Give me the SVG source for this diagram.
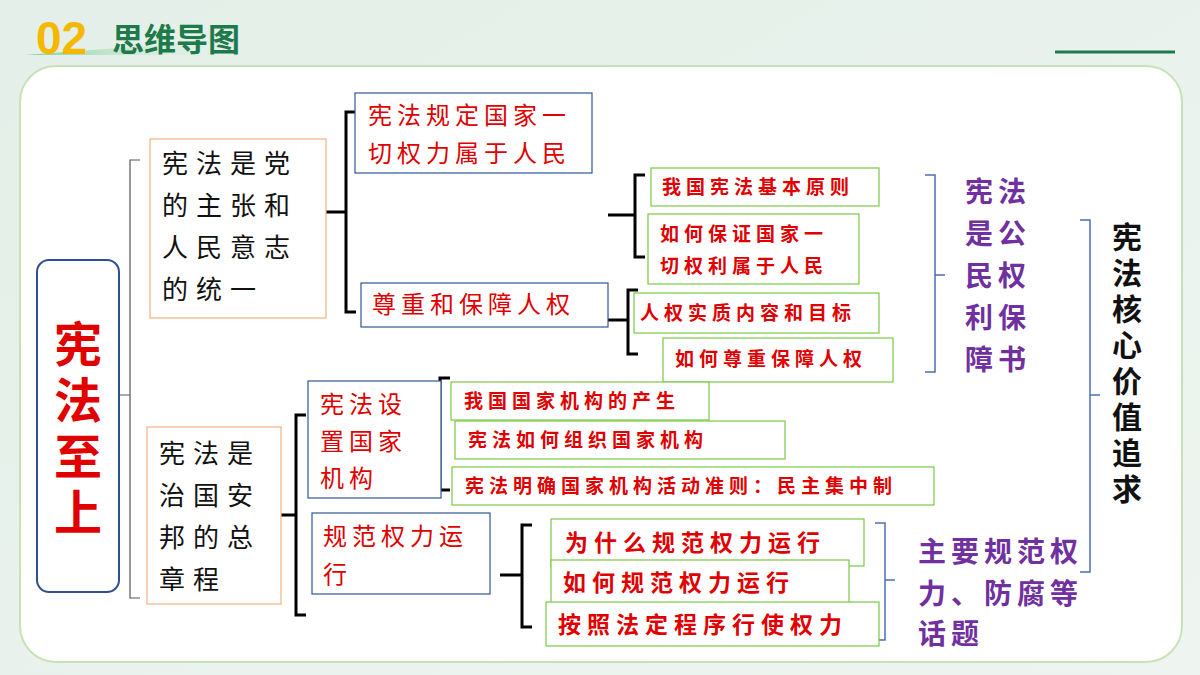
<svg xmlns="http://www.w3.org/2000/svg" width="1200" height="675" viewBox="0 0 1200 675">
<defs>
<linearGradient id="bg" x1="0" y1="0" x2="1" y2="1"><stop offset="0" stop-color="#e3efe8"/><stop offset="1" stop-color="#eef5f0"/></linearGradient>
<linearGradient id="bar" x1="0" y1="0" x2="1" y2="0"><stop offset="0" stop-color="#7fcf9a"/><stop offset="1" stop-color="#e3efe8" stop-opacity="0"/></linearGradient>
</defs>
<style>
text{font-family:"Noto Sans CJK SC","Noto Sans",sans-serif}
.t{font-size:26px;fill:#111;letter-spacing:8px}
.r{font-size:24px;fill:#e00000;letter-spacing:5px}
.g{font-size:19px;fill:#e00000;font-weight:bold;letter-spacing:5px}
.gb{font-size:23px;fill:#e00000;font-weight:bold;letter-spacing:6px}
.p{font-size:28px;fill:#7030a0;font-weight:bold;letter-spacing:5px}
.ob{fill:#fff;stroke:#f4b183;stroke-width:1.2}
.bb{fill:#fff;stroke:#2f5597;stroke-width:1.2}
.gx{fill:#fff;stroke:#7ac943;stroke-width:1.2}
.k{fill:none;stroke:#000;stroke-width:3}
.th{fill:none;stroke:#555;stroke-width:1.2}
.tb{fill:none;stroke:#4a6fb5;stroke-width:1.5}
</style>
<rect width="1200" height="675" fill="url(#bg)"/>
<polygon points="25,55 200,42 230,42 220,55" fill="url(#bar)"/>
<text x="36" y="54" font-size="46" font-weight="bold" fill="#f5b800" style="font-family:'Liberation Sans',sans-serif">02</text>
<text x="112" y="51" font-size="32" font-weight="bold" fill="#1e7a4a">思维导图</text>
<line x1="1055" y1="52" x2="1175" y2="52" stroke="#1e7a4a" stroke-width="3"/>
<rect x="20" y="66" width="1162" height="596" rx="36" fill="#fff" stroke="#c7e3b5" stroke-width="2"/>
<g id="connectors">
<path class="th" d="M119,395 H130 M140,160 H130 V598 H140"/>
<path class="k" d="M326,212 H346 M356,112 H346 V312 H356"/>
<path class="k" d="M608,320 H628 M638,290 H628 V354 H638"/>
<path class="k" d="M608,215 H635 M645,175 H635 V257 H645"/>
<path class="tb" d="M925,175 H935 V372 H925 M935,275 H945"/>
<path class="tb" d="M1080,220 H1090 V572 H1080 M1090,395 H1100"/>
<path class="k" d="M281,515 H296 M306,415 H296 V615 H306"/>
<path class="k" d="M416,435 H440 M450,378 H440 V490 H450"/>
<path class="k" d="M500,575 H522 M532,525 H522 V627 H532"/>
<path class="tb" d="M875,523 H885 V640 H875 M885,580 H895"/>
</g>
<g id="root"><rect x="37" y="260" width="82" height="332" rx="12" fill="#fff" stroke="#2f4f8f" stroke-width="2"/>
<g font-size="48" font-weight="bold" fill="#e00000" text-anchor="middle"><text x="78" y="362">宪</text><text x="78" y="418">法</text><text x="78" y="474">至</text><text x="78" y="530">上</text></g></g>
<g id="a"><rect class="ob" x="150" y="139" width="176" height="179"/>
<text class="t" x="162" y="173">宪法是党</text><text class="t" x="162" y="215">的主张和</text><text class="t" x="162" y="257">人民意志</text><text class="t" x="162" y="299">的统一</text></g>
<g id="b"><rect class="ob" x="147" y="427" width="134" height="177"/>
<text class="t" x="159" y="463">宪法是</text><text class="t" x="159" y="505">治国安</text><text class="t" x="159" y="547">邦的总</text><text class="t" x="159" y="589">章程</text></g>
<g id="a1"><rect class="bb" x="355" y="93" width="237" height="80"/>
<text class="r" x="368" y="124">宪法规定国家一</text><text class="r" x="368" y="162">切权力属于人民</text></g>
<g id="a2"><rect class="bb" x="361" y="283" width="247" height="44"/><text class="r" x="372" y="313">尊重和保障人权</text></g>
<g id="g1"><rect class="gx" x="651" y="168" width="228" height="38"/><text class="g" x="662" y="194">我国宪法基本原则</text></g>
<g id="g2"><rect class="gx" x="648" y="214" width="211" height="70"/><text class="g" x="660" y="241">如何保证国家一</text><text class="g" x="660" y="273">切权利属于人民</text></g>
<g id="g3"><rect class="gx" x="634" y="293" width="245" height="40"/><text class="g" x="640" y="320">人权实质内容和目标</text></g>
<g id="g4"><rect class="gx" x="663" y="338" width="230" height="44"/><text class="g" x="675" y="366">如何尊重保障人权</text></g>
<g id="p1"><text class="p" x="965" y="202" letter-spacing="6">宪法</text><text class="p" x="965" y="244" letter-spacing="6">是公</text><text class="p" x="965" y="286" letter-spacing="6">民权</text><text class="p" x="965" y="328" letter-spacing="6">利保</text><text class="p" x="965" y="370" letter-spacing="6">障书</text></g>
<g id="core" font-size="30" font-weight="bold" fill="#111" text-anchor="middle"><text x="1127" y="248">宪</text><text x="1127" y="284">法</text><text x="1127" y="320">核</text><text x="1127" y="356">心</text><text x="1127" y="392">价</text><text x="1127" y="428">值</text><text x="1127" y="464">追</text><text x="1127" y="500">求</text></g>
<g id="b1"><rect class="bb" x="308" y="381" width="133" height="117"/>
<text class="r" x="320" y="413">宪法设</text><text class="r" x="320" y="450">置国家</text><text class="r" x="320" y="487">机构</text></g>
<g id="b1a"><rect class="gx" x="451" y="382" width="258" height="38"/><text class="g" x="464" y="408">我国国家机构的产生</text></g>
<g id="b1b"><rect class="gx" x="455" y="421" width="330" height="38"/><text class="g" x="468" y="447">宪法如何组织国家机构</text></g>
<g id="b1c"><rect class="gx" x="452" y="467" width="482" height="38"/><text class="g" x="465" y="493" letter-spacing="3">宪法明确国家机构活动准则：民主集中制</text></g>
<g id="b2"><rect class="bb" x="312" y="513" width="178" height="81"/>
<text class="r" x="323" y="545">规范权力运</text><text class="r" x="323" y="583">行</text></g>
<g id="b2a"><rect class="gx" x="551" y="519" width="313" height="47"/><text class="gb" x="565" y="551">为什么规范权力运行</text></g>
<g id="b2b"><rect class="gx" x="551" y="560" width="298" height="45"/><text class="gb" x="563" y="591">如何规范权力运行</text></g>
<g id="b2c"><rect class="gx" x="546" y="602" width="333" height="44"/><text class="gb" x="558" y="633">按照法定程序行使权力</text></g>
<g id="p2"><text class="p" x="918" y="562">主要规范权</text><text class="p" x="918" y="604">力、防腐等</text><text class="p" x="918" y="644">话题</text></g>
</svg>
